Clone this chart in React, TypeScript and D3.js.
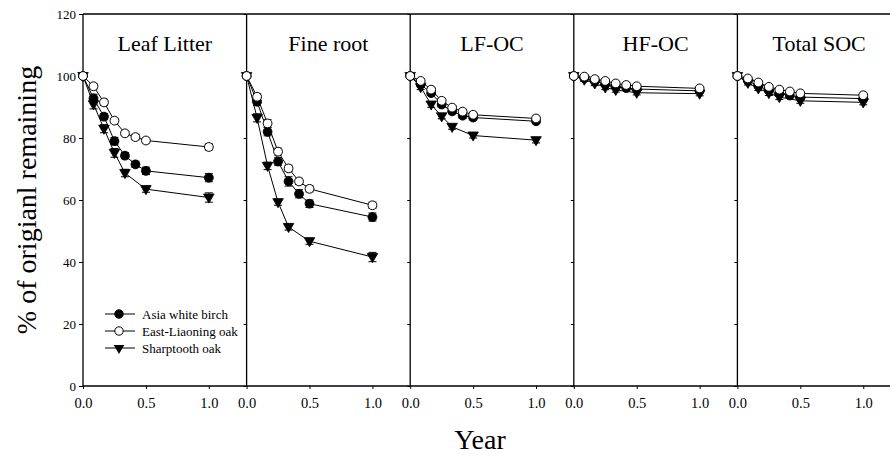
import React, { useRef, useEffect } from 'react';
import * as d3 from 'd3';

// panel titles and axes
const panelTitles = ['Leaf Litter', 'Fine root', 'LF-OC', 'HF-OC', 'Total SOC'];
const yTicks = [0, 20, 40, 60, 80, 100, 120];
const xTicks = [0, 0.5, 1.0];
const speciesNames = ['Asia white birch', 'East-Liaoning oak', 'Sharptooth oak'];

// sampling times (months); sharptooth has no 5-month sample
const monthsAll = [0, 1, 2, 3, 4, 5, 6, 12];
const monthsSharp = [0, 1, 2, 3, 4, 6, 12];

// Leaf litter
const leafBirch = [100, 92.8, 86.9, 79.0, 74.3, 71.5, 69.4, 67.2];
const leafOak = [100, 96.7, 91.5, 85.6, 81.5, 80.3, 79.2, 77.1];
const leafSharp = [100, 90.9, 83.0, 75.2, 68.7, 63.5, 60.8];
const leafBirchErr = [0, 1.3, 1.0, 1.2, 1.0, 1.0, 1.2, 1.3];
const leafOakErr = [0, 0.9, 1.0, 0.8, 0.8, 0.9, 0.8, 1.0];
const leafSharpErr = [0, 1.5, 1.3, 1.4, 1.2, 1.0, 1.5];

// Fine root
const rootBirch = [100, 91.7, 82.0, 72.4, 66.0, 62.0, 58.8, 54.5];
const rootOak = [100, 93.3, 84.7, 75.6, 70.2, 66.0, 63.6, 58.3];
const rootSharp = [100, 86.5, 71.0, 59.3, 51.3, 46.7, 41.6];
const rootBirchErr = [0, 1.2, 1.3, 1.2, 1.5, 1.3, 1.2, 1.3];
const rootOakErr = [0, 1.0, 1.2, 1.1, 1.0, 1.0, 1.0, 1.0];
const rootSharpErr = [0, 1.3, 1.2, 1.0, 1.0, 1.0, 1.5];

// LF-OC
const lfBirch = [100, 97.3, 94.5, 90.8, 88.6, 87.2, 86.6, 85.4];
const lfOak = [100, 98.4, 95.6, 92.0, 89.8, 88.5, 87.5, 86.3];
const lfSharp = [100, 96.4, 90.8, 87.0, 83.6, 80.8, 79.3];
const lfBirchErr = [0, 0.8, 0.8, 0.9, 0.8, 0.8, 0.8, 0.8];
const lfOakErr = [0, 0.7, 0.8, 0.8, 0.7, 0.8, 0.8, 0.8];
const lfSharpErr = [0, 0.8, 0.9, 0.8, 0.8, 0.8, 0.9];

// HF-OC
const hfBirch = [100, 99.3, 98.3, 97.4, 96.6, 96.1, 95.8, 95.2];
const hfOak = [100, 99.8, 99.0, 98.4, 97.6, 97.1, 96.7, 96.0];
const hfSharp = [100, 98.8, 97.6, 96.3, 95.5, 94.6, 94.3];
const hfBirchErr = [0, 0.6, 0.6, 0.6, 0.6, 0.6, 0.6, 0.6];
const hfOakErr = [0, 0.5, 0.6, 0.6, 0.6, 0.6, 0.6, 0.6];
const hfSharpErr = [0, 0.6, 0.7, 0.7, 0.7, 0.7, 0.7];

// Total SOC
const socBirch = [100, 98.5, 96.8, 95.3, 94.3, 93.7, 93.2, 92.7];
const socOak = [100, 99.2, 97.9, 96.5, 95.6, 95.0, 94.4, 93.8];
const socSharp = [100, 97.8, 96.0, 94.5, 93.2, 92.0, 91.5];
const socBirchErr = [0, 0.6, 0.7, 0.7, 0.7, 0.7, 0.7, 0.7];
const socOakErr = [0, 0.5, 0.6, 0.6, 0.6, 0.6, 0.6, 0.6];
const socSharpErr = [0, 0.7, 0.7, 0.8, 0.8, 0.8, 0.8];

type Pt = { x: number; v: number; e: number };

const toPoints = (months: number[], vals: number[], errs: number[]): Pt[] =>
  months.map((m, i) => ({ x: m / 12, v: vals[i], e: errs[i] }));

const panels = [
  [leafBirch, leafOak, leafSharp, leafBirchErr, leafOakErr, leafSharpErr],
  [rootBirch, rootOak, rootSharp, rootBirchErr, rootOakErr, rootSharpErr],
  [lfBirch, lfOak, lfSharp, lfBirchErr, lfOakErr, lfSharpErr],
  [hfBirch, hfOak, hfSharp, hfBirchErr, hfOakErr, hfSharpErr],
  [socBirch, socOak, socSharp, socBirchErr, socOakErr, socSharpErr]
].map(p => ({
  birch: toPoints(monthsAll, p[0], p[3]),
  oak: toPoints(monthsAll, p[1], p[4]),
  sharp: toPoints(monthsSharp, p[2], p[5])
}));

const FONT = '"Liberation Serif", "Times New Roman", serif';

const App = () => {
  const ref = useRef<SVGSVGElement>(null);
  const width = 890;
  const height = 456;

  useEffect(() => {
    document.body.style.margin = '0';
    const svg = d3.select(ref.current);
    svg.selectAll('*').remove();

    const left = 83;
    const top = 14;
    const bottom = 386;
    const panelW = 163.6;

    const y = d3.scaleLinear().domain([0, 120]).range([bottom, top]);

    const triangle = d3.symbol().type(d3.symbolTriangle).size(48);

    panels.forEach((panel, i) => {
      const x0 = left + i * panelW;
      const x = d3.scaleLinear().domain([0, 1.3]).range([x0, x0 + panelW]);
      const g = svg.append('g');

      // frame: left axis, top line
      g.append('line')
        .attr('x1', x0).attr('x2', x0)
        .attr('y1', top).attr('y2', bottom)
        .attr('stroke', 'black').attr('stroke-width', 1.3);
      g.append('line')
        .attr('x1', x0).attr('x2', x0 + panelW)
        .attr('y1', top).attr('y2', top)
        .attr('stroke', 'black').attr('stroke-width', 1.3);

      // y axis ticks
      const yAxis = d3.axisLeft(y)
        .tickValues(yTicks)
        .tickSize(i === 0 ? 4 : 3)
        .tickSizeOuter(0)
        .tickFormat(i === 0 ? d3.format('d') : () => '');
      const ya = g.append('g')
        .attr('transform', `translate(${x0},0)`)
        .call(yAxis);
      ya.select('.domain').remove();
      ya.selectAll('text')
        .attr('font-family', FONT)
        .attr('font-size', 13)
        .attr('fill', 'black')
        .attr('x', -7);

      // x axis
      const xAxis = d3.axisBottom(x)
        .tickValues(xTicks)
        .tickSize(3)
        .tickSizeOuter(0)
        .tickFormat(d3.format('.1f'));
      const xa = g.append('g')
        .attr('transform', `translate(0,${bottom})`)
        .call(xAxis);
      xa.select('.domain')
        .attr('d', `M${x0},0H${x0 + panelW}`)
        .attr('stroke-width', 1.3);
      xa.selectAll('text')
        .attr('font-family', FONT)
        .attr('font-size', 14.5)
        .attr('fill', 'black')
        .attr('y', 12);

      // panel title
      g.append('text')
        .attr('x', x0 + panelW / 2)
        .attr('y', 51)
        .attr('text-anchor', 'middle')
        .attr('font-family', FONT)
        .attr('font-size', 22)
        .text(panelTitles[i]);

      const line = d3.line<Pt>().x(d => x(d.x)).y(d => y(d.v));

      const series = [
        { pts: panel.sharp, kind: 'tri' },
        { pts: panel.birch, kind: 'filled' },
        { pts: panel.oak, kind: 'open' }
      ];

      series.forEach(s => {
        g.append('path')
          .datum(s.pts)
          .attr('d', line)
          .attr('fill', 'none')
          .attr('stroke', 'black')
          .attr('stroke-width', 1);
      });

      series.forEach(s => {
        const eb = g.append('g');
        s.pts.filter(d => d.e > 0).forEach(d => {
          const cx = x(d.x);
          eb.append('path')
            .attr('d', `M${cx},${y(d.v - d.e)}V${y(d.v + d.e)}` +
              `M${cx - 4},${y(d.v - d.e)}H${cx + 4}` +
              `M${cx - 4},${y(d.v + d.e)}H${cx + 4}`)
            .attr('stroke', 'black')
            .attr('stroke-width', 1)
            .attr('fill', 'none');
        });

        if (s.kind === 'tri') {
          g.selectAll(null)
            .data(s.pts)
            .join('path')
            .attr('d', triangle)
            .attr('transform', d => `translate(${x(d.x)},${y(d.v) - 0.5}) rotate(180)`)
            .attr('fill', 'black')
            .attr('stroke', 'black')
            .attr('stroke-width', 0.8);
        } else {
          g.selectAll(null)
            .data(s.pts)
            .join('circle')
            .attr('cx', d => x(d.x))
            .attr('cy', d => y(d.v))
            .attr('r', 4.4)
            .attr('fill', s.kind === 'filled' ? 'black' : 'white')
            .attr('stroke', 'black')
            .attr('stroke-width', 1);
        }
      });
    });

    // legend
    const legend = svg.append('g');
    const legendY = [314, 331, 348];
    speciesNames.forEach((name, i) => {
      const ly = legendY[i];
      legend.append('line')
        .attr('x1', 105).attr('x2', 135)
        .attr('y1', ly).attr('y2', ly)
        .attr('stroke', 'black');
      if (i === 2) {
        legend.append('path')
          .attr('d', triangle)
          .attr('transform', `translate(119,${ly}) rotate(180)`)
          .attr('fill', 'black');
      } else {
        legend.append('circle')
          .attr('cx', 119).attr('cy', ly).attr('r', 4.2)
          .attr('fill', i === 0 ? 'black' : 'white')
          .attr('stroke', 'black');
      }
      legend.append('text')
        .attr('x', 142)
        .attr('y', ly + 4.5)
        .attr('font-family', FONT)
        .attr('font-size', 13)
        .text(name);
    });

    // axis titles
    svg.append('text')
      .attr('transform', 'translate(36,200) rotate(-90)')
      .attr('text-anchor', 'middle')
      .attr('font-family', FONT)
      .attr('font-size', 28)
      .text('% of origianl remaining');

    svg.append('text')
      .attr('x', 480)
      .attr('y', 449)
      .attr('text-anchor', 'middle')
      .attr('font-family', FONT)
      .attr('font-size', 28)
      .text('Year');
  }, []);

  return <svg ref={ref} width={width} height={height} style={{ display: 'block', background: 'white' }} />;
};

export default App;
